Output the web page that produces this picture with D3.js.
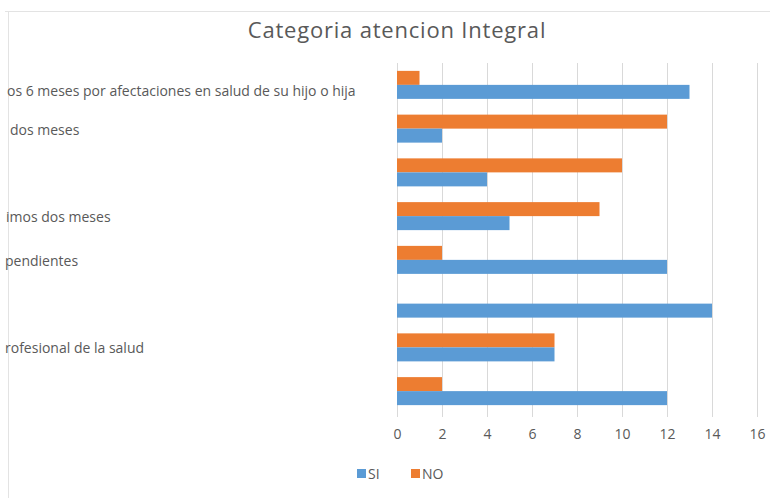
<!DOCTYPE html>
<html>
<head>
<meta charset="utf-8">
<script src="https://cdn.jsdelivr.net/npm/d3@7"></script>
<style>
  body { margin: 0; background: #fff; }
  svg { display: block; font-family: "Open Sans", sans-serif; }
</style>
</head>
<body>
<div id="chart"></div>
<script>
// Chart size
var svgWidth = 770;
var svgHeight = 498;

// Data (top to bottom, labels are cut on the left in the original picture)
var categories = [
  "os 6 meses por afectaciones en salud de su hijo o hija",
  " dos meses",
  "",
  "imos dos meses",
  "pendientes",
  "",
  "rofesional de la salud",
  ""
];
var siValues = [13, 2, 4, 5, 12, 14, 7, 12];
var noValues = [1, 12, 10, 9, 2, 0, 7, 2];
var seriesNames = ["NO", "SI"];
var xTicks = [0, 2, 4, 6, 8, 10, 12, 14, 16];

var colors = { SI: "#5B9BD5", NO: "#ED7D31" };

// plot region
var plot = { left: 397, right: 757, top: 63, bottom: 413 };

var svg = d3.select("#chart")
  .append("svg")
  .attr("width", svgWidth)
  .attr("height", svgHeight);

// chart frame (only partly visible)
svg.append("line")
  .attr("x1", 5).attr("x2", svgWidth)
  .attr("y1", 11.5).attr("y2", 11.5)
  .attr("stroke", "#e3e3e3");
svg.append("line")
  .attr("x1", 8.5).attr("x2", 8.5)
  .attr("y1", 11).attr("y2", svgHeight)
  .attr("stroke", "#e3e3e3");

// title
svg.append("text")
  .attr("x", 397)
  .attr("y", 38)
  .attr("text-anchor", "middle")
  .attr("font-size", "22px")
  .attr("letter-spacing", "0.8px")
  .attr("fill", "#595959")
  .text("Categoria atencion Integral");

// scales
var xScale = d3.scaleLinear()
  .domain([0, 16])
  .range([plot.left, plot.right]);

var yScale = d3.scaleBand()
  .domain(d3.range(categories.length))
  .range([plot.top, plot.bottom])
  .paddingInner(0.36)
  .paddingOuter(0.18);

var ySub = d3.scaleBand()
  .domain(seriesNames)
  .range([0, yScale.bandwidth()]);

// gridlines
svg.append("g")
  .selectAll("line")
  .data(xTicks)
  .enter()
  .append("line")
  .attr("x1", d => xScale(d) + 0.5)
  .attr("x2", d => xScale(d) + 0.5)
  .attr("y1", plot.top)
  .attr("y2", plot.bottom + 4)
  .attr("stroke", "#d9d9d9")
  .attr("stroke-width", 1);

// x axis labels
var xAxis = d3.axisBottom(xScale).tickValues(xTicks).tickSize(0).tickPadding(0);
var xAxisG = svg.append("g")
  .attr("transform", `translate(0, ${plot.bottom + 16})`)
  .call(xAxis);
xAxisG.select(".domain").remove();
xAxisG.selectAll("text")
  .attr("font-family", "'Open Sans', sans-serif")
  .attr("font-size", "14px")
  .attr("fill", "#595959")
  .attr("dy", "0.71em");

// bars
var rows = categories.map((c, i) => ({ i: i, SI: siValues[i], NO: noValues[i] }));

var groups = svg.append("g")
  .selectAll("g")
  .data(rows)
  .enter()
  .append("g")
  .attr("transform", d => `translate(0, ${yScale(d.i)})`);

groups.selectAll("rect")
  .data(d => seriesNames.map(s => ({ s: s, v: d[s] })))
  .enter()
  .append("rect")
  .attr("x", xScale(0))
  .attr("y", d => ySub(d.s))
  .attr("width", d => xScale(d.v) - xScale(0))
  .attr("height", ySub.bandwidth())
  .attr("fill", d => colors[d.s]);

// category labels (left aligned, cut off at the left)
var labelX = [7, 10, 7, 6, 5, 7, 5, 7];
var labelShift = [11, 6, 0, 5.5, 6.5, 0, 6, 0]; // baseline below band centre
svg.append("g")
  .selectAll("text")
  .data(categories)
  .enter()
  .append("text")
  .attr("x", (d, i) => labelX[i])
  .attr("y", (d, i) => yScale(i) + yScale.bandwidth() / 2 + labelShift[i])
  .attr("font-size", "14px")
  .attr("fill", "#595959")
  .text(d => d);

// legend
var legendItems = [
  { name: "SI", x: 357 },
  { name: "NO", x: 411 }
];
var legend = svg.append("g")
  .selectAll("g")
  .data(legendItems)
  .enter()
  .append("g")
  .attr("transform", d => `translate(${d.x}, 469)`);
legend.append("rect")
  .attr("width", 9)
  .attr("height", 9)
  .attr("fill", d => colors[d.name]);
legend.append("text")
  .attr("x", 11)
  .attr("y", 5)
  .attr("dy", "0.35em")
  .attr("font-size", "14px")
  .attr("fill", "#595959")
  .text(d => d.name);
</script>
</body>
</html>
